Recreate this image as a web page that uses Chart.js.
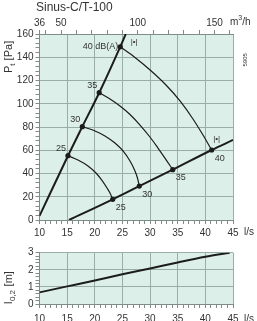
<!DOCTYPE html>
<html>
<head>
<meta charset="utf-8">
<script src="https://cdn.jsdelivr.net/npm/chart.js@4.4.1/dist/chart.umd.min.js"></script>
<style>
  html, body { margin: 0; padding: 0; background: #fff; }
  body { width: 257px; height: 321px; position: relative; overflow: hidden; }
  canvas { position: absolute; left: 0; }
  #pressureChart { top: 0; }
  #throwChart { top: 242px; }
</style>
</head>
<body>
<canvas id="pressureChart" width="257" height="242"></canvas>
<canvas id="throwChart" width="257" height="79"></canvas>
<script>
const FONT = "'Liberation Sans', Arial, sans-serif";
const ink = "#1c1c1c";
const textColor = "#333";
const plotBg = "#dcefe9";
const gridColor = "#9aaea8";
const axisColor = "#7f8c89";

// sound levels dB(A)
const levels = [25, 30, 35, 40];

// left line (l/s, Pa)
const sysFlow = [10, 15.15, 17.74, 20.8, 24.6, 25.6];
const sysPa = [3.5, 55.3, 80.3, 109.5, 149, 160];
// right line
const lowFlow = [15.33, 23.24, 28.05, 34.1, 41.14, 45];
const lowPa = [0, 17.8, 29.2, 43.3, 60.2, 68.8];

// dots where the level curves meet the lines
const topDotFlow = [15.15, 17.74, 20.8, 24.6];
const topDotPa = [55.3, 80.3, 109.5, 149];
const lowDotFlow = [23.24, 28.05, 34.1, 41.14];
const lowDotPa = [17.8, 29.2, 43.3, 60.2];

// level curves
const iso25Flow = [15.15, 16.96, 18.77, 20.22, 21.3, 22.21, 22.84, 23.24];
const iso25Pa = [55.3, 51.6, 46.5, 40.4, 34.0, 27.5, 22.4, 17.8];
const iso30Flow = [17.74, 20.04, 21.84, 23.65, 25.1, 26.37, 27.27, 27.72, 28.05];
const iso30Pa = [80.3, 76.6, 72.3, 66.2, 59.4, 50.8, 42.2, 36.1, 29.2];
const iso35Flow = [20.8, 22.75, 24.56, 26.37, 28.18, 29.98, 31.43, 32.69, 34.1];
const iso35Pa = [109.5, 104.1, 98.1, 90.8, 81.7, 71.4, 61.9, 53.3, 43.3];
const iso40Flow = [24.6, 27.27, 30.11, 32.88, 35.41, 37.76, 39.57, 41.14];
const iso40Pa = [149, 139.8, 128.6, 116.1, 102.4, 86.9, 73.1, 60.2];

// top axis in m3/h
const m3hTicks = [36, 40, 50, 60, 70, 80, 90, 100, 110, 120, 130, 140, 150, 160];
const m3hLabels = [36, 50, 100, 150];

// throw length l0,2 (m)
const throwFlow = [10, 15, 20, 25, 30, 35, 40, 44.4];
const throwLen = [0.68, 1.03, 1.38, 1.74, 2.08, 2.43, 2.76, 3.0];

const toPts = (xs, ys) => xs.map((x, i) => ({ x: x, y: ys[i] }));
const isMajor = (v, step) => Math.abs(v / step - Math.round(v / step)) < 1e-6;

const lineSet = (xs, ys, width) => ({
    type: 'line',
    data: toPts(xs, ys),
    borderColor: ink,
    borderWidth: width,
    pointRadius: 0,
    cubicInterpolationMode: 'monotone',
    fill: false
});

const dotSet = (xs, ys) => ({
    type: 'scatter',
    data: toPts(xs, ys),
    showLine: false,
    pointRadius: 2.6,
    pointBackgroundColor: ink,
    pointBorderWidth: 0
});

const plotBackground = {
    id: 'plotBackground',
    beforeDraw(chart) {
        const a = chart.chartArea, c = chart.ctx;
        c.save();
        c.fillStyle = plotBg;
        c.fillRect(a.left, a.top, a.right - a.left, a.bottom - a.top);
        c.restore();
    }
};

const xAxis = (height, pad) => ({
    type: 'linear', position: 'bottom', min: 10, max: 45,
    afterFit: s => { s.height = height; },
    ticks: {
        stepSize: 1, autoSkip: false, maxRotation: 0, padding: pad, color: textColor,
        font: { family: FONT, size: 10 },
        callback: v => isMajor(v, 5) ? v : ''
    },
    grid: {
        color: c => (c.tick && isMajor(c.tick.value, 5)) ? gridColor : 'transparent',
        tickColor: axisColor, tickLength: 4
    },
    border: { color: axisColor }
});

const yAxis = (min, max, step, major) => ({
    type: 'linear', min: min, max: max,
    afterFit: s => { s.width = 39.5; },
    ticks: {
        stepSize: step, autoSkip: false, padding: 2, color: textColor,
        font: { family: FONT, size: 10 },
        callback: v => isMajor(v, major) ? Math.round(v) : ''
    },
    grid: {
        color: c => (c.tick && isMajor(c.tick.value, major)) ? gridColor : 'transparent',
        tickColor: axisColor, tickLength: 4
    },
    border: { color: axisColor }
});

const pressureLabels = {
    id: 'pressureLabels',
    afterDatasetsDraw(chart) {
        const c = chart.ctx, x = chart.scales.x, y = chart.scales.y;
        c.save();
        c.fillStyle = textColor;
        c.font = `9px ${FONT}`;
        c.textBaseline = 'middle';
        c.textAlign = 'right';
        levels.forEach((lv, i) => {
            const px = x.getPixelForValue(topDotFlow[i]), py = y.getPixelForValue(topDotPa[i]);
            if (i === levels.length - 1) c.fillText(lv + ' dB(A)', px - 2, py);
            else c.fillText(String(lv), px - 2, py - 7);
        });
        c.textAlign = 'left';
        levels.forEach((lv, i) => {
            const px = x.getPixelForValue(lowDotFlow[i]), py = y.getPixelForValue(lowDotPa[i]);
            c.fillText(String(lv), px + 3, py + 8);
        });
        // |•| markers
        c.textAlign = 'center';
        c.font = `8px ${FONT}`;
        const t = levels.length - 1;
        c.fillText('|•|', x.getPixelForValue(topDotFlow[t]) + 14, y.getPixelForValue(topDotPa[t]) - 5);
        c.fillText('|•|', x.getPixelForValue(lowDotFlow[t]) + 5, y.getPixelForValue(lowDotPa[t]) - 11.5);
        c.restore();
    },
    afterDraw(chart) {
        const c = chart.ctx;
        c.save();
        c.fillStyle = textColor;
        c.textAlign = 'left';
        c.textBaseline = 'alphabetic';
        c.font = `12px ${FONT}`;
        c.fillText('Sinus-C/T-100', 36, 10.5);

        // m3/h
        c.font = `10px ${FONT}`;
        c.fillText('m', 230, 25);
        let w = c.measureText('m').width;
        c.font = `7px ${FONT}`;
        c.fillText('3', 230 + w, 20);
        const w3 = c.measureText('3').width;
        c.font = `10px ${FONT}`;
        c.fillText('/h', 230 + w + w3, 25);

        // l/s
        c.textBaseline = 'middle';
        c.fillText('l/s', 244, 232.7);

        // y title
        c.translate(12, 73);
        c.rotate(-Math.PI / 2);
        c.textBaseline = 'alphabetic';
        c.font = `11px ${FONT}`;
        c.fillText('P', 0, 0);
        w = c.measureText('P').width;
        c.font = `8px ${FONT}`;
        c.fillText('t', w, 3);
        const wt = c.measureText('t').width;
        c.font = `11px ${FONT}`;
        c.fillText(' [Pa]', w + wt, 0);
        c.restore();

        c.save();
        c.fillStyle = textColor;
        c.font = `6px ${FONT}`;
        c.translate(246.5, 66.5);
        c.rotate(-Math.PI / 2);
        c.fillText('5905', 0, 0);
        c.restore();
    }
};

const throwLabels = {
    id: 'throwLabels',
    afterDraw(chart) {
        const c = chart.ctx;
        c.save();
        c.fillStyle = textColor;
        c.font = `10px ${FONT}`;
        c.textBaseline = 'middle';
        c.fillText('l/s', 244, 77);
        c.translate(11.5, 62);
        c.rotate(-Math.PI / 2);
        c.textBaseline = 'alphabetic';
        c.font = `11px ${FONT}`;
        c.fillText('l', 0, 0);
        const w = c.measureText('l').width;
        c.font = `8px ${FONT}`;
        c.fillText('0,2', w + 0.5, 3);
        const ws = c.measureText('0,2').width;
        c.font = `11px ${FONT}`;
        c.fillText(' [m]', w + ws + 1, 0);
        c.restore();
    }
};

new Chart(document.getElementById('pressureChart'), {
    type: 'line',
    data: {
        datasets: [
            lineSet(sysFlow, sysPa, 2),
            lineSet(lowFlow, lowPa, 2),
            lineSet(iso25Flow, iso25Pa, 1.2),
            lineSet(iso30Flow, iso30Pa, 1.2),
            lineSet(iso35Flow, iso35Pa, 1.2),
            lineSet(iso40Flow, iso40Pa, 1.2),
            dotSet(topDotFlow, topDotPa),
            dotSet(lowDotFlow, lowDotPa)
        ]
    },
    options: {
        responsive: false,
        animation: false,
        devicePixelRatio: 1,
        layout: { padding: { left: 0, right: 24, top: 0, bottom: 0 } },
        plugins: { legend: { display: false }, tooltip: { enabled: false } },
        scales: {
            x: xAxis(22, 3),
            x2: {
                type: 'linear', position: 'top', min: 36, max: 162,
                afterFit: s => { s.height = 34; },
                afterBuildTicks: s => { s.ticks = m3hTicks.map(v => ({ value: v })); },
                ticks: {
                    autoSkip: false, maxRotation: 0, padding: 1, color: textColor,
                    font: { family: FONT, size: 10 },
                    callback: v => m3hLabels.includes(v) ? String(v) : ''
                },
                grid: { drawOnChartArea: false, tickColor: axisColor, tickLength: 4 },
                border: { color: axisColor }
            },
            y: yAxis(0, 160, 4, 20)
        }
    },
    plugins: [plotBackground, pressureLabels]
});

new Chart(document.getElementById('throwChart'), {
    type: 'line',
    data: {
        datasets: [lineSet(throwFlow, throwLen, 2)]
    },
    options: {
        responsive: false,
        animation: false,
        devicePixelRatio: 1,
        layout: { padding: { left: 0, right: 24, top: 10.7, bottom: 0 } },
        plugins: { legend: { display: false }, tooltip: { enabled: false } },
        scales: {
            x: xAxis(17, 5),
            y: yAxis(0, 3, 0.2, 1)
        }
    },
    plugins: [plotBackground, throwLabels]
});
</script>
</body>
</html>
